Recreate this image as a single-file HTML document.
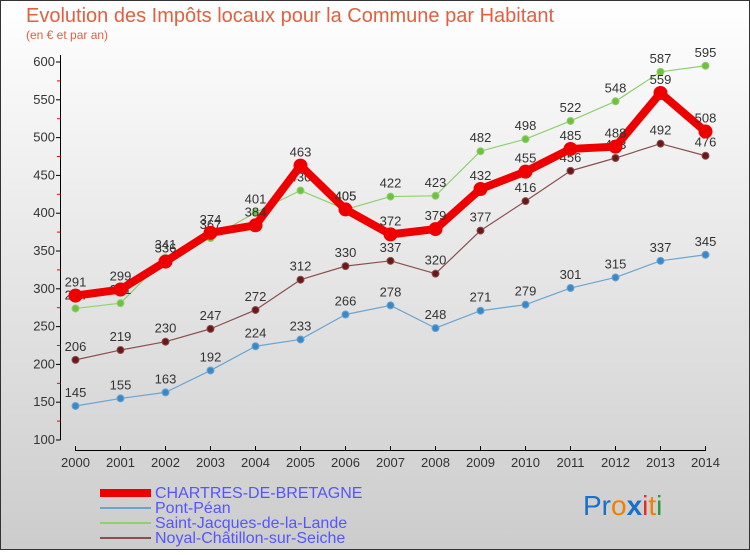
<!DOCTYPE html>
<html><head><meta charset="utf-8"><style>
body{margin:0}
svg text{font-family:"Liberation Sans","DejaVu Sans",sans-serif}
</style></head><body>
<svg width="750" height="550" xmlns="http://www.w3.org/2000/svg" id="c">
<defs><linearGradient id="bg" x1="0" y1="0" x2="0" y2="1"><stop offset="0" stop-color="#ffffff"/><stop offset="1" stop-color="#cccccc"/></linearGradient></defs>
<rect x="0.5" y="0.5" width="749" height="549" fill="url(#bg)" stroke="#333"/>
<text x="26" y="22" font-size="20" fill="#e06040">Evolution des Impôts locaux pour la Commune par Habitant</text>
<text x="26" y="39" font-size="12" fill="#e06040">(en € et par an)</text>
<g id="axes"></g><g id="series"></g>
<g font-size="16" fill="#5555ff">
<rect x="100" y="489" width="51" height="8" fill="#e00"/>
<text x="155" y="498">CHARTRES-DE-BRETAGNE</text>
<rect x="100" y="507" width="51" height="2" fill="#6aa5d0"/>
<text x="155" y="513">Pont-Péan</text>
<rect x="100" y="522" width="51" height="2" fill="#90d070"/>
<text x="155" y="528">Saint-Jacques-de-la-Lande</text>
<rect x="100" y="537" width="51" height="2" fill="#8a5050"/>
<text x="155" y="543">Noyal-Châtillon-sur-Seiche</text>
</g>
<g font-size="28">
<text x="583" y="515"><tspan fill="#1a70c8">Pr</tspan><tspan fill="#f08000">o</tspan><tspan fill="#1a70c8" font-weight="bold">x</tspan><tspan fill="#e03020">i</tspan><tspan fill="#f08000">t</tspan><tspan fill="#2a9a40">i</tspan></text>
</g>
</svg>
<script>
const years=[2000,2001,2002,2003,2004,2005,2006,2007,2008,2009,2010,2011,2012,2013,2014];
const chartres=[291,299,336,374,384,463,405,372,379,432,455,485,488,559,508];
const pontPean=[145,155,163,192,224,233,266,278,248,271,279,301,315,337,345];
const saintJacques=[274,281,341,367,401,430,405,422,423,482,498,522,548,587,595];
const noyal=[206,219,230,247,272,312,330,337,320,377,416,456,473,492,476];
const yTicks=[100,150,200,250,300,350,400,450,500,550,600];
const NS="http://www.w3.org/2000/svg";
const x=i=>75.5+i*45;
const y=v=>440-(v-100)*0.756;
function mk(tag,attrs,parent){const e=document.createElementNS(NS,tag);for(const k in attrs)e.setAttribute(k,attrs[k]);parent.appendChild(e);return e;}
const ax=document.getElementById('axes');
mk('line',{x1:60.5,y1:55,x2:60.5,y2:440,stroke:'#000'},ax);
mk('line',{x1:75.5,y1:450.5,x2:x(years.length-1),y2:450.5,stroke:'#000'},ax);
yTicks.forEach((t,i)=>{
 mk('line',{x1:56,x2:60.5,y1:y(t),y2:y(t),stroke:'#000'},ax);
 if(i<yTicks.length-1)mk('line',{x1:57,x2:60.5,y1:y(t+25),y2:y(t+25),stroke:'#e00'},ax);
 const tx=mk('text',{x:55,y:y(t)+4,'text-anchor':'end','font-size':13,fill:'#333'},ax);
 
 
 tx.textContent=t;
});
years.forEach((yr,i)=>{
 mk('line',{x1:x(i),x2:x(i),y1:446,y2:451,stroke:'#000'},ax);
 const tx=mk('text',{x:x(i),y:467,'text-anchor':'middle','font-size':13,fill:'#333'},ax);
 
 
 tx.textContent=yr;
});
const sg=document.getElementById('series');
function series(name,data,color,w,r,dot){
 const g=mk('g',{},sg);
 
 
 mk('polyline',{points:data.map((v,i)=>x(i)+','+y(v)).join(' '),fill:'none',stroke:color,'stroke-width':w,'stroke-linejoin':'round'},g);
 data.forEach((v,i)=>{
  const c=mk('circle',{cx:x(i),cy:y(v),r:r,fill:dot,stroke:color,'stroke-width':1},g);
  
  
  const t=mk('text',{x:x(i),y:y(v)-9,'text-anchor':'middle','font-size':13,fill:'#333'},g);
  
  
  t.textContent=v;
 });
}
series('pont-pean',pontPean,'#6aa5d0',1.2,3.5,'#3a88c8');
series('noyal',noyal,'#8a5050',1.2,3.5,'#6a1818');
series('saint-jacques',saintJacques,'#90d070',1.2,3.5,'#70c040');
series('chartres',chartres,'#ee0000',8,6.5,'#ee0000');
</script>
</body></html>
